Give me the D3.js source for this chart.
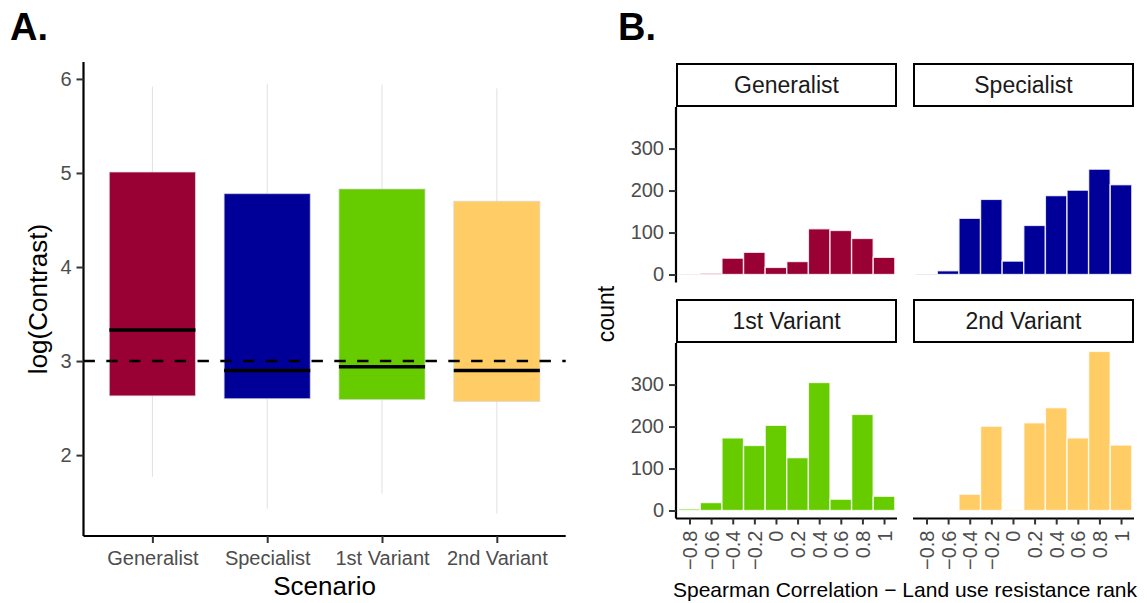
<!DOCTYPE html>
<html>
<head>
<meta charset="utf-8">
<script src="https://cdnjs.cloudflare.com/ajax/libs/d3/7.8.5/d3.min.js"></script>
<style>
  body { margin: 0; background: #fff; }
  svg { display: block; font-family: "Liberation Sans", Arial, sans-serif; }
</style>
</head>
<body>
<svg id="chart" width="1147" height="603"></svg>
<script>

// ------------------------------------------------------
// DATA - panel A (boxes of log(Contrast))
// ------------------------------------------------------
var scenarios = ["Generalist", "Specialist", "1st Variant", "2nd Variant"];
var scenarioColours = ["#990033", "#000099", "#66cc00", "#ffcc66"];
var boxLower = [2.63, 2.60, 2.59, 2.57];
var boxUpper = [5.01, 4.78, 4.83, 4.70];
var boxMedian = [3.33, 2.90, 2.94, 2.90];
var whiskerLow = [1.77, 1.43, 1.59, 1.38];
var whiskerHigh = [5.92, 5.95, 5.94, 5.90];
var contrastTicks = [2, 3, 4, 5, 6];
var referenceLine = 3;

// ------------------------------------------------------
// DATA - panel B (histograms of spearman correlation)
// ------------------------------------------------------
var binCentres = [-0.8, -0.6, -0.4, -0.2, 0, 0.2, 0.4, 0.6, 0.8, 1.0];
var binWidth = 0.2;
var countsGeneralist = [1, 3, 39, 53, 17, 31, 109, 105, 86, 41];
var countsSpecialist = [1, 9, 134, 179, 32, 117, 188, 201, 251, 214];
var countsFirstVariant = [4, 19, 173, 155, 203, 126, 305, 27, 229, 34];
var countsSecondVariant = [0, 0, 39, 201, 2, 209, 245, 173, 379, 156];
var countTicks = [0, 100, 200, 300];
var corrTicks = [-0.8, -0.6, -0.4, -0.2, 0, 0.2, 0.4, 0.6, 0.8, 1];
var corrTickLabels = ["\u22120.8", "\u22120.6", "\u22120.4", "\u22120.2", "0", "0.2", "0.4", "0.6", "0.8", "1"];

var svg = d3.select("#chart");
var tickGrey = "#4d4d4d";

// --------------------------------------------------
// Panel labels
// --------------------------------------------------
svg.append("text").attr("x", 10).attr("y", 40)
    .attr("font-size", 38).attr("font-weight", "bold").text("A.");
svg.append("text").attr("x", 618).attr("y", 40)
    .attr("font-size", 38).attr("font-weight", "bold").text("B.");

// --------------------------------------------------
// PANEL A - box chart
// --------------------------------------------------
var a = {left: 83.5, right: 565.7, top: 62, bottom: 536};

var xA = d3.scalePoint()
    .domain(scenarios)
    .range([a.left, a.right])
    .padding(0.6);

var yA = d3.scaleLinear()
    .domain([1.14, 6.18])
    .range([a.bottom, a.top]);

var boxW = xA.step() * 0.75;

var gA = svg.append("g");

// whiskers (very light)
gA.selectAll("line.whisker")
    .data(scenarios)
    .enter().append("line")
    .attr("class", "whisker")
    .attr("x1", function(d) { return xA(d); })
    .attr("x2", function(d) { return xA(d); })
    .attr("y1", function(d, i) { return yA(whiskerHigh[i]); })
    .attr("y2", function(d, i) { return yA(whiskerLow[i]); })
    .attr("stroke", "#e0e0e0")
    .attr("stroke-width", 1);

// boxes
gA.selectAll("rect.box")
    .data(scenarios)
    .enter().append("rect")
    .attr("class", "box")
    .attr("x", function(d) { return xA(d) - boxW / 2; })
    .attr("width", boxW)
    .attr("y", function(d, i) { return yA(boxUpper[i]); })
    .attr("height", function(d, i) { return yA(boxLower[i]) - yA(boxUpper[i]); })
    .attr("fill", function(d, i) { return scenarioColours[i]; })
    .attr("stroke", "#d8d8d8")
    .attr("stroke-opacity", 0.7)
    .attr("stroke-width", 1);

// reference line at 3
gA.append("line")
    .attr("x1", a.left).attr("x2", a.right)
    .attr("y1", yA(referenceLine)).attr("y2", yA(referenceLine))
    .attr("stroke", "#000")
    .attr("stroke-width", 2.5)
    .attr("stroke-dasharray", "11.4,11.4");

// medians
gA.selectAll("line.median")
    .data(scenarios)
    .enter().append("line")
    .attr("class", "median")
    .attr("x1", function(d) { return xA(d) - boxW / 2; })
    .attr("x2", function(d) { return xA(d) + boxW / 2; })
    .attr("y1", function(d, i) { return yA(boxMedian[i]); })
    .attr("y2", function(d, i) { return yA(boxMedian[i]); })
    .attr("stroke", "#000")
    .attr("stroke-width", 3.5);

// axes
var axA_y = gA.append("g")
    .attr("transform", "translate(" + a.left + ",0)")
    .call(d3.axisLeft(yA).tickValues(contrastTicks).tickSize(7).tickPadding(5).tickFormat(d3.format("d")));
var axA_x = gA.append("g")
    .attr("transform", "translate(0," + a.bottom + ")")
    .call(d3.axisBottom(xA).tickSize(7).tickPadding(8));

[axA_y, axA_x].forEach(function(ax) {
    ax.select(".domain").attr("stroke", "#000").attr("stroke-width", 2.2);
    ax.selectAll(".tick line").attr("stroke", "#333").attr("stroke-width", 2);
    ax.selectAll(".tick text").attr("fill", tickGrey).attr("font-size", 20)
        .attr("font-family", "Liberation Sans, Arial, sans-serif");
});
axA_y.select(".domain").attr("d", "M0," + a.top + "V" + a.bottom);
axA_x.select(".domain").attr("d", "M" + a.left + ",0H" + a.right);

gA.append("text")
    .attr("x", (a.left + a.right) / 2).attr("y", 595)
    .attr("text-anchor", "middle").attr("font-size", 26)
    .text("Scenario");

gA.append("text")
    .attr("transform", "translate(47," + ((a.top + a.bottom) / 2) + ") rotate(-90)")
    .attr("text-anchor", "middle").attr("font-size", 26)
    .text("log(Contrast)");

// --------------------------------------------------
// PANEL B - faceted histograms
// --------------------------------------------------
var facets = [
    {name: "Generalist", counts: countsGeneralist, colour: scenarioColours[0], col: 0, row: 0},
    {name: "Specialist", counts: countsSpecialist, colour: scenarioColours[1], col: 1, row: 0},
    {name: "1st Variant", counts: countsFirstVariant, colour: scenarioColours[2], col: 0, row: 1},
    {name: "2nd Variant", counts: countsSecondVariant, colour: scenarioColours[3], col: 1, row: 1}
];

var colLeft = [676, 913];
var panelW = 221;
var stripTop = [63, 299];
var stripH = 44;
var panelH = 175.5;

var yB = d3.scaleLinear().domain([-19, 399]).range([panelH, 0]);
var xB = d3.scaleLinear().domain([-0.925, 1.12]).range([0, panelW]);

facets.forEach(function(f) {
    var gx = colLeft[f.col];
    var gy = stripTop[f.row];
    var g = svg.append("g").attr("transform", "translate(" + gx + "," + gy + ")");

    // strip
    g.append("rect")
        .attr("x", 1).attr("y", 1)
        .attr("width", panelW - 2).attr("height", stripH - 2)
        .attr("fill", "#fff").attr("stroke", "#000").attr("stroke-width", 2);
    g.append("text")
        .attr("x", panelW / 2).attr("y", stripH / 2 + 8)
        .attr("text-anchor", "middle").attr("font-size", 23).attr("fill", "#1a1a1a")
        .text(f.name);

    var p = g.append("g").attr("transform", "translate(0," + stripH + ")");

    p.selectAll("rect")
        .data(f.counts)
        .enter().append("rect")
        .attr("x", function(d, i) { return xB(binCentres[i] - binWidth / 2); })
        .attr("width", function(d, i) { return xB(binCentres[i] + binWidth / 2) - xB(binCentres[i] - binWidth / 2); })
        .attr("y", function(d) { return yB(d); })
        .attr("height", function(d) { return yB(0) - yB(d); })
        .attr("fill", f.colour)
        .attr("stroke", "#fff")
        .attr("stroke-opacity", function(d) { return d > 0 ? 0.8 : 0; })
        .attr("stroke-width", 1.4);

    if (f.col == 0) {
        var ay = p.append("g")
            .call(d3.axisLeft(yB).tickValues(countTicks).tickSize(7).tickPadding(5));
        ay.select(".domain").attr("d", "M0,0V" + panelH).attr("stroke", "#000").attr("stroke-width", 2.2);
        ay.selectAll(".tick line").attr("stroke", "#333").attr("stroke-width", 2);
        ay.selectAll(".tick text").attr("fill", tickGrey).attr("font-size", 20)
            .attr("font-family", "Liberation Sans, Arial, sans-serif");
    }

    if (f.row == 1) {
        var ax = p.append("g")
            .attr("transform", "translate(0," + panelH + ")")
            .call(d3.axisBottom(xB).tickValues(corrTicks).tickSize(6)
                .tickFormat(function(d, i) { return corrTickLabels[i]; }));
        ax.select(".domain").attr("d", "M0,0H" + panelW).attr("stroke", "#000").attr("stroke-width", 2.2);
        ax.selectAll(".tick line").attr("stroke", "#333").attr("stroke-width", 2);
        ax.selectAll(".tick text")
            .attr("fill", tickGrey).attr("font-size", 20)
            .attr("font-family", "Liberation Sans, Arial, sans-serif")
            .attr("text-anchor", "end")
            .attr("dy", null)
            .attr("y", 0)
            .attr("dominant-baseline", "central")
            .attr("transform", "translate(0,12) rotate(-90)");
    }
});

svg.append("text")
    .attr("x", (colLeft[0] + colLeft[1] + panelW) / 2).attr("y", 597)
    .attr("text-anchor", "middle").attr("font-size", 21)
    .text("Spearman Correlation \u2212 Land use resistance rank");

svg.append("text")
    .attr("transform", "translate(614,314) rotate(-90)")
    .attr("text-anchor", "middle").attr("font-size", 23)
    .text("count");

</script>
</body>
</html>
